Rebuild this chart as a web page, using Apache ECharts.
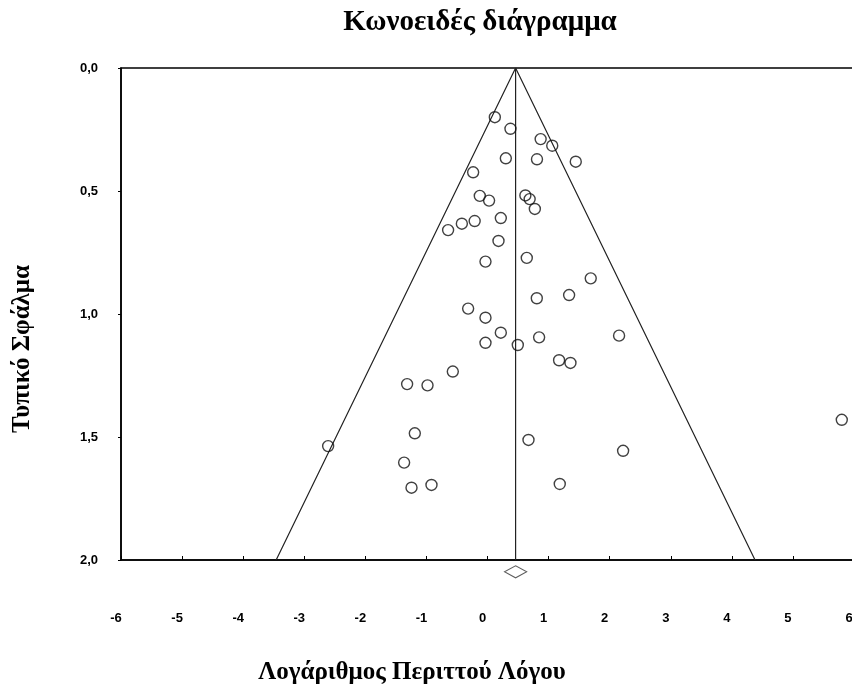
<!DOCTYPE html>
<html><head><meta charset="utf-8">
<script src="https://cdn.jsdelivr.net/npm/echarts@6/dist/echarts.min.js"></script>
<style>html,body{margin:0;padding:0;background:#fff}#c{width:852px;height:686px}</style>
</head><body><div id="c"></div>
<script>
// Log odds ratio (x) and standard error (y) per study
const logOR = [0.12,0.376,0.87,1.06,0.30,0.81,1.445,-0.235,-0.126,0.026,0.62,0.69,0.775,0.218,-0.21,-0.42,-0.645,0.18,
  -0.033,0.643,1.69,1.336,0.807,-0.317,-0.033,0.218,0.845,2.154,-0.033,0.496,1.172,1.358,-0.568,-1.316,-0.982,
  -2.609,-1.19,0.671,2.22,-1.365,-1.244,-0.917,1.183,5.80];
const stdErr = [0.20,0.247,0.289,0.316,0.367,0.371,0.381,0.424,0.52,0.539,0.518,0.533,0.573,0.61,0.622,0.633,0.659,0.703,
  0.787,0.772,0.855,0.923,0.936,0.978,1.015,1.076,1.095,1.088,1.117,1.126,1.188,1.199,1.234,1.285,1.29,
  1.537,1.485,1.512,1.556,1.604,1.706,1.695,1.691,1.43];
const pooled = 0.46;
const seMax = 2.0;
const diamondY = 2.048;
const xTicks = [-6,-5,-4,-3,-2,-1,0,1,2,3,4,5,6];
const yTicks = ['0,0','0,5','1,0','1,5','2,0'];

const pts = logOR.map((x,i)=>[x,stdErr[i]]);
const funnel = [[pooled-1.96*seMax,seMax],[pooled,0],[pooled+1.96*seMax,seMax]];
const vline = [[pooled,0],[pooled,seMax]];

const chart = echarts.init(document.getElementById('c'));
chart.setOption({
  animation:false,
  backgroundColor:'#fff',
  title:{text:'Κωνοειδές διάγραμμα',left:475,top:3,textAlign:'center',
    textStyle:{fontFamily:'Liberation Serif',fontWeight:'bold',fontSize:29,color:'#000'}},
  grid:{left:121,top:68,right:-2,bottom:126,outerBoundsMode:'none',containLabel:false,
    show:true,borderColor:'#000',borderWidth:1.5,backgroundColor:'transparent'},
  graphic:[
    {type:'text',x:412,y:673,style:{text:'Λογάριθμος Περιττού Λόγου',align:'center',verticalAlign:'middle',
      font:'bold 25px "Liberation Serif"',fill:'#000'}},
    {type:'text',x:23,y:349,rotation:Math.PI/2,style:{text:'Τυπικό Σφάλμα',align:'center',verticalAlign:'middle',
      font:'bold 25px "Liberation Serif"',fill:'#000'}}
  ],
  xAxis:{type:'value',min:-6,max:6,interval:1,
    axisLine:{show:true,onZero:false,lineStyle:{color:'#000',width:1.5}},
    axisTick:{show:true,inside:true,length:4,lineStyle:{color:'#000'}},
    splitLine:{show:false},
    axisLabel:{margin:52,padding:[0,10,0,0],fontFamily:'Liberation Sans',fontWeight:'bold',fontSize:13,color:'#000',
      formatter:v=>String(xTicks[xTicks.indexOf(v)])}},
  yAxis:{type:'value',min:0,max:2,interval:0.5,inverse:true,
    axisLine:{show:true,onZero:false,lineStyle:{color:'#000',width:1.5}},
    axisTick:{show:true,length:3,lineStyle:{color:'#000'}},
    splitLine:{show:false},
    axisLabel:{margin:23,fontFamily:'Liberation Sans',fontWeight:'bold',fontSize:13,color:'#000',
      formatter:v=>yTicks[Math.round(v/0.5)]}},
  series:[
    {type:'line',data:funnel,symbol:'none',lineStyle:{color:'#222',width:1.2},z:2},
    {type:'line',data:vline,symbol:'none',lineStyle:{color:'#222',width:1.2},z:2},
    {type:'scatter',data:pts,symbol:'circle',symbolSize:11,clip:false,
      itemStyle:{color:'rgba(255,255,255,0)',borderColor:'#111',borderWidth:1.4},z:3},
    {type:'scatter',data:[[pooled,diamondY]],symbol:'diamond',symbolSize:[22,12],clip:false,
      itemStyle:{color:'#fff',borderColor:'#333',borderWidth:1.2},z:3}
  ]
});
</script></body></html>
